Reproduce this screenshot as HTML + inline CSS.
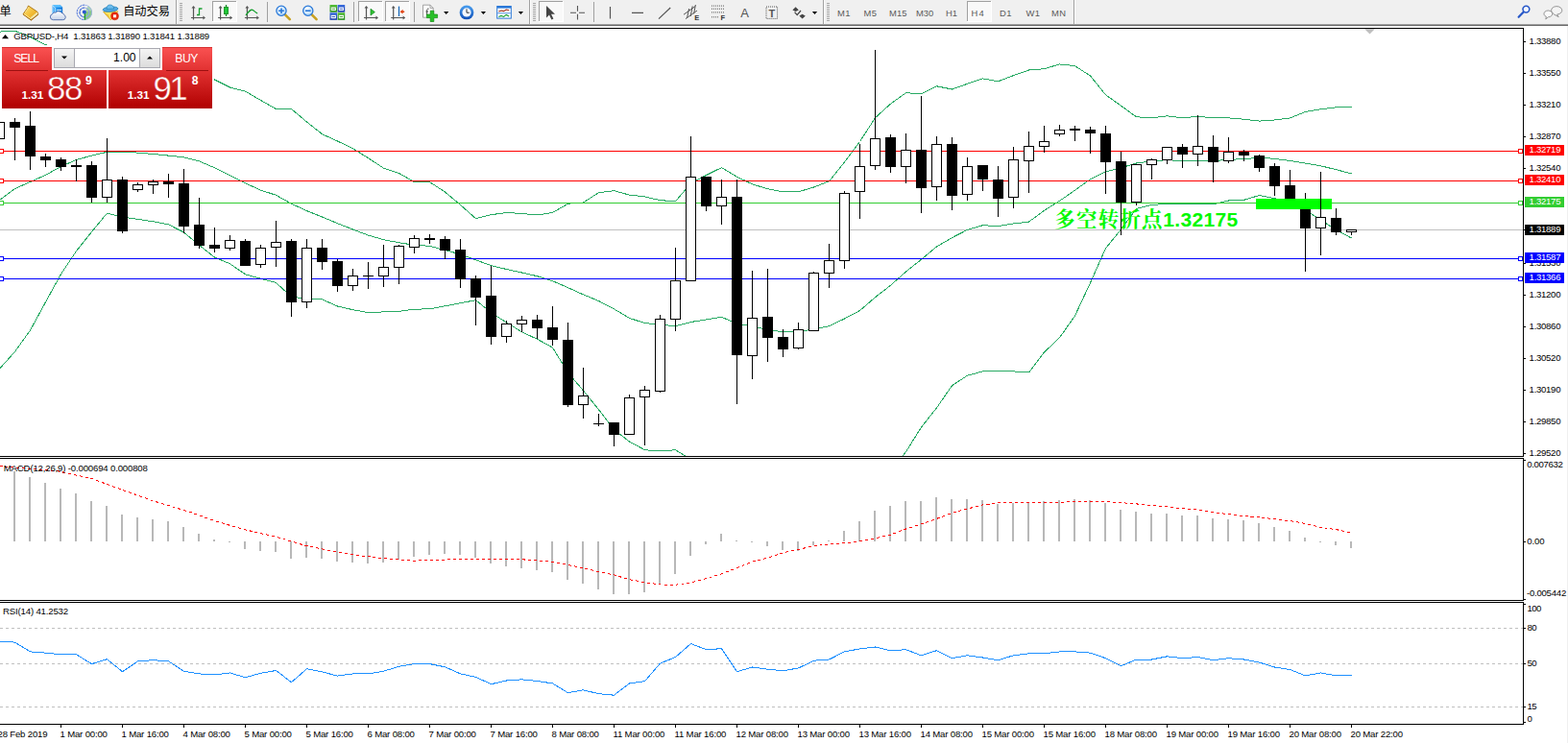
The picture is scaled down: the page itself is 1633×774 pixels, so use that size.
<!DOCTYPE html>
<html><head><meta charset="utf-8"><title>GBPUSD H4</title>
<style>
html,body{margin:0;padding:0;background:#fff;}
body{width:1633px;height:774px;overflow:hidden;position:relative;font-family:"Liberation Sans",sans-serif;}
#root{position:absolute;left:0;top:0;width:1633px;height:774px;overflow:hidden;}
.t{position:absolute;white-space:pre;font-family:"Liberation Sans",sans-serif;}
</style></head><body><div id="root">
<svg width="1633" height="774" viewBox="0 0 1633 774" style="position:absolute;left:0;top:0" shape-rendering="crispEdges">
<rect x="0" y="0" width="1633" height="774" fill="#fff" />
<rect x="0" y="0" width="1633" height="25" fill="#f0f0f0" />
<rect x="0" y="25" width="1633" height="1" fill="#a0a0a0" />
<rect x="0" y="26" width="1633" height="1" fill="#696969" />
<rect x="1632" y="27" width="1" height="747" fill="#f0f0f0" />
<rect x="0" y="29" width="1587" height="1" fill="#000" />
<rect x="1586" y="29" width="1" height="447" fill="#000" />
<rect x="0" y="475" width="1587" height="1" fill="#000" />
<rect x="0" y="477" width="1587" height="1" fill="#000" />
<rect x="1586" y="477" width="1" height="149" fill="#000" />
<rect x="0" y="625" width="1587" height="1" fill="#000" />
<rect x="0" y="627" width="1587" height="1" fill="#000" />
<rect x="1586" y="627" width="1" height="128" fill="#000" />
<rect x="0" y="754" width="1587" height="1" fill="#000" />
<path d="M1421 30H1432L1426.5 35.5Z" fill="#c0c0c0" shape-rendering="auto"/>
<defs><clipPath id="cm"><rect x="0" y="30" width="1586" height="445"/></clipPath><linearGradient id="rg" x1="0" y1="0" x2="0" y2="1"><stop offset="0" stop-color="#fa5252"/><stop offset="0.38" stop-color="#e23232"/><stop offset="1" stop-color="#b00000"/></linearGradient><linearGradient id="bg" x1="0" y1="0" x2="0" y2="1"><stop offset="0" stop-color="#f4f4f4"/><stop offset="1" stop-color="#dcdcdc"/></linearGradient></defs>
<rect x="0" y="239" width="1586" height="1" fill="#c0c0c0" />
<g>
<polyline points="-0.5,33.1 15.5,32.2 31.5,38.5 47.5,46.8 63.5,50.1 79.5,53.4 95.5,56.7 111.5,60 127.5,63.3 143.5,66.5 159.5,69.8 175.5,73.1 191.5,76.4 207.5,79.7 223.5,83 239.5,91 255.5,95.1 271.5,104.5 287.5,113.5 303.5,113.5 319.5,127 335.5,139.7 351.5,147 367.5,154.7 383.5,164.7 399.5,175.1 415.5,180.4 431.5,189.6 447.5,189.6 463.5,200 479.5,213.5 495.5,227.7 511.5,223.7 527.5,221.5 543.5,222.5 559.5,224 575.5,221.5 591.5,212.2 607.5,211 623.5,200.7 639.5,198.7 655.5,203.1 671.5,204.9 687.5,208.7 703.5,209.7 719.5,190.9 735.5,182.5 751.5,174.6 767.5,184.2 783.5,191.9 799.5,196.7 815.5,199.8 831.5,199.8 847.5,195 863.5,188.8 879.5,169 895.5,147.5 911.5,122.7 927.5,108.2 943.5,96.7 959.5,97.8 975.5,89.8 991.5,93 1007.5,87.3 1023.5,81.9 1039.5,84.8 1055.5,78.6 1071.5,73 1087.5,71.7 1103.5,66.9 1119.5,68.6 1135.5,79 1151.5,98.8 1167.5,110.2 1183.5,121.8 1199.5,122.8 1215.5,120.8 1231.5,122.9 1247.5,121.3 1263.5,122.9 1279.5,122.9 1295.5,124.2 1311.5,126.1 1327.5,125 1343.5,122.9 1359.5,116.5 1375.5,113.8 1391.5,111.8 1407.5,111.8" fill="none" stroke="#28aa64" stroke-width="1" clip-path="url(#cm)" />
<polyline points="-0.5,208.5 15.5,196.5 31.5,189.5 47.5,182.3 63.5,173.5 79.5,166.5 95.5,162.1 111.5,158.3 127.5,158.3 143.5,159.1 159.5,160.5 175.5,162.1 191.5,163.8 207.5,167.9 223.5,174.8 239.5,182.6 255.5,190.8 271.5,198.1 287.5,203.3 303.5,212.3 319.5,219.6 335.5,226 351.5,232.7 367.5,239 383.5,245.1 399.5,249.7 415.5,252.7 431.5,255.3 447.5,256.3 463.5,260.7 479.5,264.8 495.5,270.8 511.5,276.7 527.5,280.5 543.5,284 559.5,287.7 575.5,292.7 591.5,299.6 607.5,306.9 623.5,313.5 639.5,321.9 655.5,331.4 671.5,336.6 687.5,338.1 703.5,339.8 719.5,335.5 735.5,332.9 751.5,330.3 767.5,337.2 783.5,339.9 799.5,343.4 815.5,345.9 831.5,345.9 847.5,342.8 863.5,339.7 879.5,332 895.5,323.5 911.5,309.7 927.5,297.3 943.5,283 959.5,270.3 975.5,257 991.5,247.6 1007.5,239.4 1023.5,234.7 1039.5,235.6 1055.5,233 1071.5,231.1 1087.5,219.3 1103.5,209.3 1119.5,198.2 1135.5,186.7 1151.5,178.8 1167.5,174.8 1183.5,170 1199.5,168 1215.5,166.6 1231.5,167.8 1247.5,167.2 1263.5,167.8 1279.5,166.1 1295.5,165.9 1311.5,163.9 1327.5,165.5 1343.5,167.4 1359.5,170.1 1375.5,172.8 1391.5,176.7 1407.5,180.9" fill="none" stroke="#28aa64" stroke-width="1" clip-path="url(#cm)" />
<polyline points="-0.5,384.2 15.5,366.4 31.5,344 47.5,314.7 63.5,285.5 79.5,261.5 95.5,241.5 111.5,222.1 127.5,226.1 143.5,228.3 159.5,230.8 175.5,233.9 191.5,242 207.5,255.5 223.5,268 239.5,274.8 255.5,285.8 271.5,290.3 287.5,294.5 303.5,309.2 319.5,311.1 335.5,311.9 351.5,319 367.5,322.7 383.5,325.6 399.5,324.9 415.5,324.3 431.5,322.2 447.5,321.8 463.5,318.8 479.5,315.7 495.5,312.7 511.5,325.6 527.5,336 543.5,345.8 559.5,353.3 575.5,362.1 591.5,388.2 607.5,406.9 623.5,426.7 639.5,447.5 655.5,460 671.5,468.7 687.5,470 703.5,468.7 719.5,478.5 735.5,500.5 751.5,500.5 767.5,500.5 783.5,500.5 799.5,500.5 815.5,500.5 831.5,500.5 847.5,500.5 863.5,500.5 879.5,500.5 895.5,500.5 911.5,500.5 927.5,490.2 943.5,470.7 959.5,445 975.5,424.9 991.5,401.7 1007.5,391.2 1023.5,386.9 1039.5,386.9 1055.5,386.9 1071.5,388 1087.5,367 1103.5,351.8 1119.5,329 1135.5,294.6 1151.5,258.7 1167.5,239 1183.5,217.3 1199.5,213.5 1215.5,212.3 1231.5,212.3 1247.5,212.3 1263.5,212.7 1279.5,209 1295.5,208.3 1311.5,203.5 1327.5,206.6 1343.5,210.5 1359.5,219 1375.5,229 1391.5,239.7 1407.5,248" fill="none" stroke="#28aa64" stroke-width="1" clip-path="url(#cm)" />
</g>
<rect x="0" y="157" width="1586" height="1" fill="#ff0000" />
<rect x="0" y="188" width="1586" height="1" fill="#ff0000" />
<rect x="0" y="211" width="1586" height="1" fill="#32cd32" />
<rect x="0" y="269" width="1586" height="1" fill="#0000ff" />
<rect x="0" y="290" width="1586" height="1" fill="#0000ff" />
<rect x="-1" y="120" width="1" height="31" fill="#000" />
<rect x="-6" y="127" width="11" height="18" fill="#000" />
<rect x="-5" y="128" width="9" height="16" fill="#fff" />
<rect x="15" y="123" width="1" height="44" fill="#000" />
<rect x="10" y="127" width="11" height="6" fill="#000" />
<rect x="31" y="116" width="1" height="61" fill="#000" />
<rect x="26" y="131" width="11" height="32" fill="#000" />
<rect x="47" y="160" width="1" height="14" fill="#000" />
<rect x="42" y="163" width="11" height="4" fill="#000" />
<rect x="63" y="164" width="1" height="14" fill="#000" />
<rect x="58" y="166" width="11" height="8" fill="#000" />
<rect x="79" y="166" width="1" height="23" fill="#000" />
<rect x="74" y="172" width="11" height="2" fill="#000" />
<rect x="95" y="168" width="1" height="43" fill="#000" />
<rect x="90" y="172" width="11" height="34" fill="#000" />
<rect x="111" y="144" width="1" height="67" fill="#000" />
<rect x="106" y="187" width="11" height="19" fill="#000" />
<rect x="107" y="188" width="9" height="17" fill="#fff" />
<rect x="127" y="184" width="1" height="59" fill="#000" />
<rect x="122" y="187" width="11" height="54" fill="#000" />
<rect x="143" y="190" width="1" height="10" fill="#000" />
<rect x="138" y="192" width="11" height="6" fill="#000" />
<rect x="139" y="193" width="9" height="4" fill="#fff" />
<rect x="159" y="187" width="1" height="15" fill="#000" />
<rect x="154" y="189" width="11" height="4" fill="#000" />
<rect x="155" y="190" width="9" height="2" fill="#fff" />
<rect x="175" y="181" width="1" height="25" fill="#000" />
<rect x="170" y="189" width="11" height="3" fill="#000" />
<rect x="191" y="176" width="1" height="67" fill="#000" />
<rect x="186" y="191" width="11" height="45" fill="#000" />
<rect x="207" y="206" width="1" height="53" fill="#000" />
<rect x="202" y="234" width="11" height="22" fill="#000" />
<rect x="223" y="237" width="1" height="26" fill="#000" />
<rect x="218" y="255" width="11" height="4" fill="#000" />
<rect x="239" y="245" width="1" height="16" fill="#000" />
<rect x="234" y="250" width="11" height="9" fill="#000" />
<rect x="235" y="251" width="9" height="7" fill="#fff" />
<rect x="255" y="249" width="1" height="28" fill="#000" />
<rect x="250" y="251" width="11" height="26" fill="#000" />
<rect x="271" y="255" width="1" height="24" fill="#000" />
<rect x="266" y="258" width="11" height="18" fill="#000" />
<rect x="267" y="259" width="9" height="16" fill="#fff" />
<rect x="287" y="230" width="1" height="48" fill="#000" />
<rect x="282" y="252" width="11" height="6" fill="#000" />
<rect x="283" y="253" width="9" height="4" fill="#fff" />
<rect x="303" y="249" width="1" height="81" fill="#000" />
<rect x="298" y="251" width="11" height="64" fill="#000" />
<rect x="319" y="249" width="1" height="72" fill="#000" />
<rect x="314" y="258" width="11" height="57" fill="#000" />
<rect x="315" y="259" width="9" height="55" fill="#fff" />
<rect x="335" y="249" width="1" height="32" fill="#000" />
<rect x="330" y="258" width="11" height="15" fill="#000" />
<rect x="351" y="270" width="1" height="34" fill="#000" />
<rect x="346" y="272" width="11" height="26" fill="#000" />
<rect x="367" y="280" width="1" height="23" fill="#000" />
<rect x="362" y="287" width="11" height="11" fill="#000" />
<rect x="363" y="288" width="9" height="9" fill="#fff" />
<rect x="383" y="273" width="1" height="28" fill="#000" />
<rect x="378" y="287" width="11" height="1" fill="#000" />
<rect x="399" y="255" width="1" height="44" fill="#000" />
<rect x="394" y="278" width="11" height="10" fill="#000" />
<rect x="395" y="279" width="9" height="8" fill="#fff" />
<rect x="415" y="255" width="1" height="41" fill="#000" />
<rect x="410" y="256" width="11" height="23" fill="#000" />
<rect x="411" y="257" width="9" height="21" fill="#fff" />
<rect x="431" y="245" width="1" height="19" fill="#000" />
<rect x="426" y="248" width="11" height="10" fill="#000" />
<rect x="427" y="249" width="9" height="8" fill="#fff" />
<rect x="447" y="244" width="1" height="10" fill="#000" />
<rect x="442" y="248" width="11" height="2" fill="#000" />
<rect x="463" y="246" width="1" height="24" fill="#000" />
<rect x="458" y="249" width="11" height="12" fill="#000" />
<rect x="479" y="249" width="1" height="51" fill="#000" />
<rect x="474" y="260" width="11" height="31" fill="#000" />
<rect x="495" y="287" width="1" height="52" fill="#000" />
<rect x="490" y="290" width="11" height="20" fill="#000" />
<rect x="511" y="277" width="1" height="82" fill="#000" />
<rect x="506" y="308" width="11" height="43" fill="#000" />
<rect x="527" y="334" width="1" height="23" fill="#000" />
<rect x="522" y="337" width="11" height="14" fill="#000" />
<rect x="523" y="338" width="9" height="12" fill="#fff" />
<rect x="543" y="329" width="1" height="17" fill="#000" />
<rect x="538" y="333" width="11" height="5" fill="#000" />
<rect x="539" y="334" width="9" height="3" fill="#fff" />
<rect x="559" y="328" width="1" height="25" fill="#000" />
<rect x="554" y="333" width="11" height="9" fill="#000" />
<rect x="575" y="319" width="1" height="41" fill="#000" />
<rect x="570" y="341" width="11" height="13" fill="#000" />
<rect x="591" y="336" width="1" height="88" fill="#000" />
<rect x="586" y="354" width="11" height="68" fill="#000" />
<rect x="607" y="383" width="1" height="53" fill="#000" />
<rect x="602" y="412" width="11" height="10" fill="#000" />
<rect x="603" y="413" width="9" height="8" fill="#fff" />
<rect x="623" y="431" width="1" height="13" fill="#000" />
<rect x="618" y="441" width="11" height="1" fill="#000" />
<rect x="639" y="440" width="1" height="25" fill="#000" />
<rect x="634" y="440" width="11" height="13" fill="#000" />
<rect x="655" y="411" width="1" height="42" fill="#000" />
<rect x="650" y="414" width="11" height="39" fill="#000" />
<rect x="651" y="415" width="9" height="37" fill="#fff" />
<rect x="671" y="402" width="1" height="62" fill="#000" />
<rect x="666" y="406" width="11" height="8" fill="#000" />
<rect x="667" y="407" width="9" height="6" fill="#fff" />
<rect x="687" y="328" width="1" height="81" fill="#000" />
<rect x="682" y="332" width="11" height="76" fill="#000" />
<rect x="683" y="333" width="9" height="74" fill="#fff" />
<rect x="703" y="258" width="1" height="87" fill="#000" />
<rect x="698" y="292" width="11" height="41" fill="#000" />
<rect x="699" y="293" width="9" height="39" fill="#fff" />
<rect x="719" y="142" width="1" height="151" fill="#000" />
<rect x="714" y="184" width="11" height="109" fill="#000" />
<rect x="715" y="185" width="9" height="107" fill="#fff" />
<rect x="735" y="184" width="1" height="36" fill="#000" />
<rect x="730" y="184" width="11" height="31" fill="#000" />
<rect x="751" y="187" width="1" height="47" fill="#000" />
<rect x="746" y="205" width="11" height="10" fill="#000" />
<rect x="747" y="206" width="9" height="8" fill="#fff" />
<rect x="767" y="187" width="1" height="234" fill="#000" />
<rect x="762" y="205" width="11" height="165" fill="#000" />
<rect x="783" y="282" width="1" height="113" fill="#000" />
<rect x="778" y="331" width="11" height="40" fill="#000" />
<rect x="779" y="332" width="9" height="38" fill="#fff" />
<rect x="799" y="280" width="1" height="97" fill="#000" />
<rect x="794" y="330" width="11" height="22" fill="#000" />
<rect x="815" y="343" width="1" height="29" fill="#000" />
<rect x="810" y="351" width="11" height="13" fill="#000" />
<rect x="831" y="336" width="1" height="28" fill="#000" />
<rect x="826" y="343" width="11" height="20" fill="#000" />
<rect x="827" y="344" width="9" height="18" fill="#fff" />
<rect x="847" y="283" width="1" height="62" fill="#000" />
<rect x="842" y="284" width="11" height="61" fill="#000" />
<rect x="843" y="285" width="9" height="59" fill="#fff" />
<rect x="863" y="254" width="1" height="46" fill="#000" />
<rect x="858" y="271" width="11" height="14" fill="#000" />
<rect x="859" y="272" width="9" height="12" fill="#fff" />
<rect x="879" y="199" width="1" height="81" fill="#000" />
<rect x="874" y="201" width="11" height="71" fill="#000" />
<rect x="875" y="202" width="9" height="69" fill="#fff" />
<rect x="895" y="150" width="1" height="78" fill="#000" />
<rect x="890" y="173" width="11" height="27" fill="#000" />
<rect x="891" y="174" width="9" height="25" fill="#fff" />
<rect x="911" y="52" width="1" height="125" fill="#000" />
<rect x="906" y="144" width="11" height="29" fill="#000" />
<rect x="907" y="145" width="9" height="27" fill="#fff" />
<rect x="927" y="140" width="1" height="40" fill="#000" />
<rect x="922" y="143" width="11" height="31" fill="#000" />
<rect x="943" y="139" width="1" height="52" fill="#000" />
<rect x="938" y="156" width="11" height="18" fill="#000" />
<rect x="939" y="157" width="9" height="16" fill="#fff" />
<rect x="959" y="100" width="1" height="122" fill="#000" />
<rect x="954" y="156" width="11" height="40" fill="#000" />
<rect x="975" y="142" width="1" height="67" fill="#000" />
<rect x="970" y="150" width="11" height="45" fill="#000" />
<rect x="971" y="151" width="9" height="43" fill="#fff" />
<rect x="991" y="143" width="1" height="76" fill="#000" />
<rect x="986" y="150" width="11" height="54" fill="#000" />
<rect x="1007" y="164" width="1" height="45" fill="#000" />
<rect x="1002" y="173" width="11" height="30" fill="#000" />
<rect x="1003" y="174" width="9" height="28" fill="#fff" />
<rect x="1023" y="172" width="1" height="27" fill="#000" />
<rect x="1018" y="172" width="11" height="15" fill="#000" />
<rect x="1039" y="173" width="1" height="53" fill="#000" />
<rect x="1034" y="187" width="11" height="20" fill="#000" />
<rect x="1055" y="153" width="1" height="64" fill="#000" />
<rect x="1050" y="166" width="11" height="40" fill="#000" />
<rect x="1051" y="167" width="9" height="38" fill="#fff" />
<rect x="1071" y="137" width="1" height="64" fill="#000" />
<rect x="1066" y="152" width="11" height="16" fill="#000" />
<rect x="1067" y="153" width="9" height="14" fill="#fff" />
<rect x="1087" y="131" width="1" height="28" fill="#000" />
<rect x="1082" y="147" width="11" height="6" fill="#000" />
<rect x="1083" y="148" width="9" height="4" fill="#fff" />
<rect x="1103" y="130" width="1" height="12" fill="#000" />
<rect x="1098" y="135" width="11" height="5" fill="#000" />
<rect x="1099" y="136" width="9" height="3" fill="#fff" />
<rect x="1119" y="131" width="1" height="16" fill="#000" />
<rect x="1114" y="134" width="11" height="2" fill="#000" />
<rect x="1135" y="132" width="1" height="28" fill="#000" />
<rect x="1130" y="135" width="11" height="4" fill="#000" />
<rect x="1151" y="131" width="1" height="71" fill="#000" />
<rect x="1146" y="139" width="11" height="30" fill="#000" />
<rect x="1167" y="158" width="1" height="87" fill="#000" />
<rect x="1162" y="168" width="11" height="43" fill="#000" />
<rect x="1183" y="171" width="1" height="43" fill="#000" />
<rect x="1178" y="171" width="11" height="40" fill="#000" />
<rect x="1179" y="172" width="9" height="38" fill="#fff" />
<rect x="1199" y="165" width="1" height="22" fill="#000" />
<rect x="1194" y="166" width="11" height="6" fill="#000" />
<rect x="1195" y="167" width="9" height="4" fill="#fff" />
<rect x="1215" y="153" width="1" height="18" fill="#000" />
<rect x="1210" y="153" width="11" height="14" fill="#000" />
<rect x="1211" y="154" width="9" height="12" fill="#fff" />
<rect x="1231" y="150" width="1" height="25" fill="#000" />
<rect x="1226" y="153" width="11" height="8" fill="#000" />
<rect x="1247" y="120" width="1" height="53" fill="#000" />
<rect x="1242" y="152" width="11" height="9" fill="#000" />
<rect x="1243" y="153" width="9" height="7" fill="#fff" />
<rect x="1263" y="141" width="1" height="49" fill="#000" />
<rect x="1258" y="153" width="11" height="16" fill="#000" />
<rect x="1279" y="143" width="1" height="27" fill="#000" />
<rect x="1274" y="158" width="11" height="10" fill="#000" />
<rect x="1275" y="159" width="9" height="8" fill="#fff" />
<rect x="1295" y="156" width="1" height="12" fill="#000" />
<rect x="1290" y="158" width="11" height="4" fill="#000" />
<rect x="1311" y="161" width="1" height="18" fill="#000" />
<rect x="1306" y="162" width="11" height="13" fill="#000" />
<rect x="1327" y="170" width="1" height="34" fill="#000" />
<rect x="1322" y="173" width="11" height="21" fill="#000" />
<rect x="1343" y="177" width="1" height="39" fill="#000" />
<rect x="1338" y="193" width="11" height="23" fill="#000" />
<rect x="1359" y="201" width="1" height="82" fill="#000" />
<rect x="1354" y="215" width="11" height="23" fill="#000" />
<rect x="1375" y="179" width="1" height="87" fill="#000" />
<rect x="1370" y="226" width="11" height="12" fill="#000" />
<rect x="1371" y="227" width="9" height="10" fill="#fff" />
<rect x="1391" y="217" width="1" height="28" fill="#000" />
<rect x="1386" y="227" width="11" height="15" fill="#000" />
<rect x="1407" y="239" width="1" height="6" fill="#000" />
<rect x="1402" y="239" width="11" height="3" fill="#000" />
<rect x="1403" y="240" width="9" height="1" fill="#fff" />
<rect x="-1" y="155" width="5" height="5" fill="#ff0000" />
<rect x="0" y="156" width="3" height="3" fill="#fff" />
<rect x="1581" y="155" width="5" height="5" fill="#ff0000" />
<rect x="1582" y="156" width="3" height="3" fill="#fff" />
<rect x="-1" y="186" width="5" height="5" fill="#ff0000" />
<rect x="0" y="187" width="3" height="3" fill="#fff" />
<rect x="1581" y="186" width="5" height="5" fill="#ff0000" />
<rect x="1582" y="187" width="3" height="3" fill="#fff" />
<rect x="-1" y="209" width="5" height="5" fill="#32cd32" />
<rect x="0" y="210" width="3" height="3" fill="#fff" />
<rect x="1581" y="209" width="5" height="5" fill="#32cd32" />
<rect x="1582" y="210" width="3" height="3" fill="#fff" />
<rect x="-1" y="267" width="5" height="5" fill="#0000ff" />
<rect x="0" y="268" width="3" height="3" fill="#fff" />
<rect x="1581" y="267" width="5" height="5" fill="#0000ff" />
<rect x="1582" y="268" width="3" height="3" fill="#fff" />
<rect x="-1" y="288" width="5" height="5" fill="#0000ff" />
<rect x="0" y="289" width="3" height="3" fill="#fff" />
<rect x="1581" y="288" width="5" height="5" fill="#0000ff" />
<rect x="1582" y="289" width="3" height="3" fill="#fff" />
<rect x="1308" y="207" width="79" height="11" fill="#00ff00" />
<rect x="1375" y="207" width="1" height="11" fill="#000" />
<rect x="14" y="491" width="2" height="73" fill="#b8b8b8" />
<rect x="30" y="497" width="2" height="67" fill="#b8b8b8" />
<rect x="46" y="503" width="2" height="61" fill="#b8b8b8" />
<rect x="62" y="509" width="2" height="55" fill="#b8b8b8" />
<rect x="78" y="514" width="2" height="50" fill="#b8b8b8" />
<rect x="94" y="522" width="2" height="42" fill="#b8b8b8" />
<rect x="110" y="527" width="2" height="37" fill="#b8b8b8" />
<rect x="126" y="536" width="2" height="28" fill="#b8b8b8" />
<rect x="142" y="539" width="2" height="25" fill="#b8b8b8" />
<rect x="158" y="541" width="2" height="23" fill="#b8b8b8" />
<rect x="174" y="543" width="2" height="21" fill="#b8b8b8" />
<rect x="190" y="549" width="2" height="15" fill="#b8b8b8" />
<rect x="206" y="556" width="2" height="8" fill="#b8b8b8" />
<rect x="222" y="562" width="2" height="2" fill="#b8b8b8" />
<rect x="238" y="564" width="2" height="1" fill="#b8b8b8" />
<rect x="254" y="564" width="2" height="8" fill="#b8b8b8" />
<rect x="270" y="564" width="2" height="10" fill="#b8b8b8" />
<rect x="286" y="564" width="2" height="11" fill="#b8b8b8" />
<rect x="302" y="564" width="2" height="18" fill="#b8b8b8" />
<rect x="318" y="564" width="2" height="17" fill="#b8b8b8" />
<rect x="334" y="564" width="2" height="18" fill="#b8b8b8" />
<rect x="350" y="564" width="2" height="21" fill="#b8b8b8" />
<rect x="366" y="564" width="2" height="22" fill="#b8b8b8" />
<rect x="382" y="564" width="2" height="23" fill="#b8b8b8" />
<rect x="398" y="564" width="2" height="22" fill="#b8b8b8" />
<rect x="414" y="564" width="2" height="19" fill="#b8b8b8" />
<rect x="430" y="564" width="2" height="16" fill="#b8b8b8" />
<rect x="446" y="564" width="2" height="14" fill="#b8b8b8" />
<rect x="462" y="564" width="2" height="13" fill="#b8b8b8" />
<rect x="478" y="564" width="2" height="14" fill="#b8b8b8" />
<rect x="494" y="564" width="2" height="17" fill="#b8b8b8" />
<rect x="510" y="564" width="2" height="23" fill="#b8b8b8" />
<rect x="526" y="564" width="2" height="26" fill="#b8b8b8" />
<rect x="542" y="564" width="2" height="28" fill="#b8b8b8" />
<rect x="558" y="564" width="2" height="30" fill="#b8b8b8" />
<rect x="574" y="564" width="2" height="32" fill="#b8b8b8" />
<rect x="590" y="564" width="2" height="40" fill="#b8b8b8" />
<rect x="606" y="564" width="2" height="44" fill="#b8b8b8" />
<rect x="622" y="564" width="2" height="50" fill="#b8b8b8" />
<rect x="638" y="564" width="2" height="55" fill="#b8b8b8" />
<rect x="654" y="564" width="2" height="55" fill="#b8b8b8" />
<rect x="670" y="564" width="2" height="53" fill="#b8b8b8" />
<rect x="686" y="564" width="2" height="45" fill="#b8b8b8" />
<rect x="702" y="564" width="2" height="34" fill="#b8b8b8" />
<rect x="718" y="564" width="2" height="15" fill="#b8b8b8" />
<rect x="734" y="564" width="2" height="3" fill="#b8b8b8" />
<rect x="750" y="556" width="2" height="8" fill="#b8b8b8" />
<rect x="766" y="563" width="2" height="1" fill="#b8b8b8" />
<rect x="782" y="564" width="2" height="1" fill="#b8b8b8" />
<rect x="798" y="564" width="2" height="5" fill="#b8b8b8" />
<rect x="814" y="564" width="2" height="9" fill="#b8b8b8" />
<rect x="830" y="564" width="2" height="10" fill="#b8b8b8" />
<rect x="846" y="564" width="2" height="4" fill="#b8b8b8" />
<rect x="862" y="563" width="2" height="1" fill="#b8b8b8" />
<rect x="878" y="553" width="2" height="11" fill="#b8b8b8" />
<rect x="894" y="543" width="2" height="21" fill="#b8b8b8" />
<rect x="910" y="532" width="2" height="32" fill="#b8b8b8" />
<rect x="926" y="527" width="2" height="37" fill="#b8b8b8" />
<rect x="942" y="522" width="2" height="42" fill="#b8b8b8" />
<rect x="958" y="522" width="2" height="42" fill="#b8b8b8" />
<rect x="974" y="518" width="2" height="46" fill="#b8b8b8" />
<rect x="990" y="520" width="2" height="44" fill="#b8b8b8" />
<rect x="1006" y="520" width="2" height="44" fill="#b8b8b8" />
<rect x="1022" y="521" width="2" height="43" fill="#b8b8b8" />
<rect x="1038" y="525" width="2" height="39" fill="#b8b8b8" />
<rect x="1054" y="524" width="2" height="40" fill="#b8b8b8" />
<rect x="1070" y="523" width="2" height="41" fill="#b8b8b8" />
<rect x="1086" y="522" width="2" height="42" fill="#b8b8b8" />
<rect x="1102" y="521" width="2" height="43" fill="#b8b8b8" />
<rect x="1118" y="520" width="2" height="44" fill="#b8b8b8" />
<rect x="1134" y="521" width="2" height="43" fill="#b8b8b8" />
<rect x="1150" y="524" width="2" height="40" fill="#b8b8b8" />
<rect x="1166" y="531" width="2" height="33" fill="#b8b8b8" />
<rect x="1182" y="533" width="2" height="31" fill="#b8b8b8" />
<rect x="1198" y="535" width="2" height="29" fill="#b8b8b8" />
<rect x="1214" y="535" width="2" height="29" fill="#b8b8b8" />
<rect x="1230" y="537" width="2" height="27" fill="#b8b8b8" />
<rect x="1246" y="537" width="2" height="27" fill="#b8b8b8" />
<rect x="1262" y="540" width="2" height="24" fill="#b8b8b8" />
<rect x="1278" y="541" width="2" height="23" fill="#b8b8b8" />
<rect x="1294" y="542" width="2" height="22" fill="#b8b8b8" />
<rect x="1310" y="545" width="2" height="19" fill="#b8b8b8" />
<rect x="1326" y="549" width="2" height="15" fill="#b8b8b8" />
<rect x="1342" y="553" width="2" height="11" fill="#b8b8b8" />
<rect x="1358" y="560" width="2" height="4" fill="#b8b8b8" />
<rect x="1374" y="564" width="2" height="1" fill="#b8b8b8" />
<rect x="1390" y="564" width="2" height="4" fill="#b8b8b8" />
<rect x="1406" y="564" width="2" height="7" fill="#b8b8b8" />
<polyline points="-0.5,485.7 0.5,485.8 60,490.8 95.3,498.5 128.4,510.7 159.2,521.7 198.9,533.8 223.4,542.6 254,551.5 287.1,559.2 319.3,568.7 340.5,572.8 351.5,575.3 367.5,577.9 383.5,579.7 399.5,581.7 415.5,583 431.5,584.1 447.5,583 463.5,583 479.5,582.3 495.5,582.1 511.5,582.1 527.5,582.1 543.5,582.8 559.5,583.9 575.5,585.2 591.5,588.5 607.5,591.8 623.5,595.5 639.5,598.9 655.5,603.7 671.5,606.6 687.5,609 703.5,609.2 719.5,607 735.5,602.6 751.5,597.8 767.5,591.6 783.5,585.2 799.5,581.2 815.5,575.7 831.5,572.4 847.5,568.7 863.5,566.9 879.5,565.8 895.5,564 911.5,560.9 927.5,557 943.5,551 959.5,545.9 975.5,540.4 991.5,534.3 1007.5,530.1 1023.5,525.8 1039.5,524 1055.5,523.1 1071.5,523.1 1087.5,523.1 1103.5,523.1 1119.5,522.8 1135.5,522.8 1151.5,522.8 1167.5,523.6 1183.5,524.9 1199.5,526.7 1215.5,527.9 1231.5,529.7 1247.5,531 1263.5,533.6 1279.5,535.7 1295.5,537.5 1311.5,538.7 1327.5,540.8 1343.5,542.6 1359.5,545.4 1375.5,549.3 1391.5,551.6 1407.5,554.9" fill="none" stroke="#ff0000" stroke-width="1" stroke-dasharray="3 3"/>
<line x1="0" y1="654.5" x2="1586" y2="654.5" stroke="#c0c0c0" stroke-width="1" stroke-dasharray="3 3"/>
<line x1="0" y1="691.5" x2="1586" y2="691.5" stroke="#c0c0c0" stroke-width="1" stroke-dasharray="3 3"/>
<line x1="0" y1="736.5" x2="1586" y2="736.5" stroke="#c0c0c0" stroke-width="1" stroke-dasharray="3 3"/>
<polyline points="-0.5,668.1 15.5,669.1 31.5,678.9 47.5,680.1 63.5,681.8 79.5,681.8 95.5,691.6 111.5,686.7 127.5,699.7 143.5,688.9 159.5,687.7 175.5,688.9 191.5,699.2 207.5,701.9 223.5,702.9 239.5,700.9 255.5,705.8 271.5,701.2 287.5,698.5 303.5,710.7 319.5,696.8 335.5,699.9 351.5,704.1 367.5,701.9 383.5,701.9 399.5,699.2 415.5,694.3 431.5,691.6 447.5,691.6 463.5,694.8 479.5,701.9 495.5,705.3 511.5,712.7 527.5,709 543.5,707.8 559.5,709.5 575.5,711.9 591.5,721.7 607.5,718.8 623.5,722.7 639.5,724.2 655.5,711.9 671.5,709.7 687.5,691.1 703.5,684.5 719.5,670.5 735.5,676.7 751.5,675.7 767.5,699.7 783.5,695 799.5,697.2 815.5,698.7 831.5,696 847.5,688.2 863.5,687 879.5,678.9 895.5,675.9 911.5,674 927.5,677.9 943.5,676.7 959.5,682.8 975.5,677.7 991.5,685.7 1007.5,682.8 1023.5,685 1039.5,687.7 1055.5,682.8 1071.5,680.8 1087.5,680.8 1103.5,678.9 1119.5,678.9 1135.5,680.1 1151.5,685.7 1167.5,693.8 1183.5,687 1199.5,687 1215.5,683.8 1231.5,685.7 1247.5,684.5 1263.5,687.7 1279.5,685.7 1295.5,687 1311.5,690.1 1327.5,695 1343.5,697.5 1359.5,703.9 1375.5,700.9 1391.5,703.9 1407.5,703.9" fill="none" stroke="#1e90ff" stroke-width="1"/>
<rect x="63" y="755" width="1" height="3" fill="#000" />
<rect x="127" y="755" width="1" height="3" fill="#000" />
<rect x="191" y="755" width="1" height="3" fill="#000" />
<rect x="255" y="755" width="1" height="3" fill="#000" />
<rect x="319" y="755" width="1" height="3" fill="#000" />
<rect x="383" y="755" width="1" height="3" fill="#000" />
<rect x="447" y="755" width="1" height="3" fill="#000" />
<rect x="511" y="755" width="1" height="3" fill="#000" />
<rect x="575" y="755" width="1" height="3" fill="#000" />
<rect x="639" y="755" width="1" height="3" fill="#000" />
<rect x="703" y="755" width="1" height="3" fill="#000" />
<rect x="767" y="755" width="1" height="3" fill="#000" />
<rect x="831" y="755" width="1" height="3" fill="#000" />
<rect x="895" y="755" width="1" height="3" fill="#000" />
<rect x="959" y="755" width="1" height="3" fill="#000" />
<rect x="1023" y="755" width="1" height="3" fill="#000" />
<rect x="1087" y="755" width="1" height="3" fill="#000" />
<rect x="1151" y="755" width="1" height="3" fill="#000" />
<rect x="1215" y="755" width="1" height="3" fill="#000" />
<rect x="1279" y="755" width="1" height="3" fill="#000" />
<rect x="1343" y="755" width="1" height="3" fill="#000" />
<rect x="1407" y="755" width="1" height="3" fill="#000" />
<rect x="1587" y="43" width="2" height="1" fill="#000" />
<rect x="1587" y="76" width="2" height="1" fill="#000" />
<rect x="1587" y="109" width="2" height="1" fill="#000" />
<rect x="1587" y="142" width="2" height="1" fill="#000" />
<rect x="1587" y="175" width="2" height="1" fill="#000" />
<rect x="1587" y="274" width="2" height="1" fill="#000" />
<rect x="1587" y="307" width="2" height="1" fill="#000" />
<rect x="1587" y="340" width="2" height="1" fill="#000" />
<rect x="1587" y="373" width="2" height="1" fill="#000" />
<rect x="1587" y="406" width="2" height="1" fill="#000" />
<rect x="1587" y="439" width="2" height="1" fill="#000" />
<rect x="1587" y="472" width="2" height="1" fill="#000" />
<rect x="1587" y="479" width="2" height="1" fill="#000" />
<rect x="1587" y="564" width="2" height="1" fill="#000" />
<rect x="1587" y="624" width="2" height="1" fill="#000" />
<rect x="1587" y="629" width="2" height="1" fill="#000" />
<rect x="1587" y="654" width="2" height="1" fill="#000" />
<rect x="1587" y="691" width="2" height="1" fill="#000" />
<rect x="1587" y="736" width="2" height="1" fill="#000" />
<rect x="1587" y="752" width="2" height="1" fill="#000" />
</svg>
<div class="t" style="left:1592.60px;top:38.37px;font-size:9.6px;line-height:9.6px;color:#000;letter-spacing:-0.300px;">1.33880</div>
<div class="t" style="left:1592.60px;top:71.37px;font-size:9.6px;line-height:9.6px;color:#000;letter-spacing:-0.300px;">1.33550</div>
<div class="t" style="left:1592.60px;top:104.37px;font-size:9.6px;line-height:9.6px;color:#000;letter-spacing:-0.300px;">1.33210</div>
<div class="t" style="left:1592.60px;top:137.37px;font-size:9.6px;line-height:9.6px;color:#000;letter-spacing:-0.300px;">1.32870</div>
<div class="t" style="left:1592.60px;top:170.37px;font-size:9.6px;line-height:9.6px;color:#000;letter-spacing:-0.300px;">1.32540</div>
<div class="t" style="left:1592.60px;top:269.37px;font-size:9.6px;line-height:9.6px;color:#000;letter-spacing:-0.300px;">1.31530</div>
<div class="t" style="left:1592.60px;top:302.37px;font-size:9.6px;line-height:9.6px;color:#000;letter-spacing:-0.300px;">1.31200</div>
<div class="t" style="left:1592.60px;top:335.37px;font-size:9.6px;line-height:9.6px;color:#000;letter-spacing:-0.300px;">1.30860</div>
<div class="t" style="left:1592.60px;top:368.37px;font-size:9.6px;line-height:9.6px;color:#000;letter-spacing:-0.300px;">1.30520</div>
<div class="t" style="left:1592.60px;top:401.37px;font-size:9.6px;line-height:9.6px;color:#000;letter-spacing:-0.300px;">1.30190</div>
<div class="t" style="left:1592.60px;top:434.37px;font-size:9.6px;line-height:9.6px;color:#000;letter-spacing:-0.300px;">1.29850</div>
<div class="t" style="left:1592.60px;top:467.37px;font-size:9.6px;line-height:9.6px;color:#000;letter-spacing:-0.300px;">1.29520</div>
<div class="t" style="left:1590.20px;top:479.47px;font-size:9.6px;line-height:9.6px;color:#000;letter-spacing:-0.330px;">0.007632</div>
<div class="t" style="left:1590.20px;top:559.47px;font-size:9.6px;line-height:9.6px;color:#000;letter-spacing:-0.071px;">0.00</div>
<div class="t" style="left:1590.00px;top:613.47px;font-size:9.6px;line-height:9.6px;color:#000;letter-spacing:-0.249px;">-0.005442</div>
<div class="t" style="left:1590.40px;top:629.47px;font-size:9.6px;line-height:9.6px;color:#000;letter-spacing:-0.472px;">100</div>
<div class="t" style="left:1590.40px;top:649.47px;font-size:9.6px;line-height:9.6px;color:#000;letter-spacing:-0.439px;">80</div>
<div class="t" style="left:1590.40px;top:686.47px;font-size:9.6px;line-height:9.6px;color:#000;letter-spacing:-0.439px;">50</div>
<div class="t" style="left:1590.40px;top:731.47px;font-size:9.6px;line-height:9.6px;color:#000;letter-spacing:-0.439px;">15</div>
<div class="t" style="left:1590.40px;top:743.87px;font-size:9.6px;line-height:9.6px;color:#000;">0</div>
<div class="t" style="left:-2.50px;top:760.17px;font-size:9.6px;line-height:9.6px;color:#000;letter-spacing:-0.186px;">28 Feb 2019</div>
<div class="t" style="left:62.50px;top:760.17px;font-size:9.6px;line-height:9.6px;color:#000;letter-spacing:-0.177px;">1 Mar 00:00</div>
<div class="t" style="left:126.50px;top:760.17px;font-size:9.6px;line-height:9.6px;color:#000;letter-spacing:-0.177px;">1 Mar 16:00</div>
<div class="t" style="left:190.50px;top:760.17px;font-size:9.6px;line-height:9.6px;color:#000;letter-spacing:-0.177px;">4 Mar 08:00</div>
<div class="t" style="left:254.50px;top:760.17px;font-size:9.6px;line-height:9.6px;color:#000;letter-spacing:-0.177px;">5 Mar 00:00</div>
<div class="t" style="left:318.50px;top:760.17px;font-size:9.6px;line-height:9.6px;color:#000;letter-spacing:-0.177px;">5 Mar 16:00</div>
<div class="t" style="left:382.50px;top:760.17px;font-size:9.6px;line-height:9.6px;color:#000;letter-spacing:-0.177px;">6 Mar 08:00</div>
<div class="t" style="left:446.50px;top:760.17px;font-size:9.6px;line-height:9.6px;color:#000;letter-spacing:-0.177px;">7 Mar 00:00</div>
<div class="t" style="left:510.50px;top:760.17px;font-size:9.6px;line-height:9.6px;color:#000;letter-spacing:-0.177px;">7 Mar 16:00</div>
<div class="t" style="left:574.50px;top:760.17px;font-size:9.6px;line-height:9.6px;color:#000;letter-spacing:-0.177px;">8 Mar 08:00</div>
<div class="t" style="left:638.50px;top:760.17px;font-size:9.6px;line-height:9.6px;color:#000;letter-spacing:-0.177px;">11 Mar 00:00</div>
<div class="t" style="left:702.50px;top:760.17px;font-size:9.6px;line-height:9.6px;color:#000;letter-spacing:-0.177px;">11 Mar 16:00</div>
<div class="t" style="left:766.50px;top:760.17px;font-size:9.6px;line-height:9.6px;color:#000;letter-spacing:-0.179px;">12 Mar 08:00</div>
<div class="t" style="left:830.50px;top:760.17px;font-size:9.6px;line-height:9.6px;color:#000;letter-spacing:-0.179px;">13 Mar 00:00</div>
<div class="t" style="left:894.50px;top:760.17px;font-size:9.6px;line-height:9.6px;color:#000;letter-spacing:-0.179px;">13 Mar 16:00</div>
<div class="t" style="left:958.50px;top:760.17px;font-size:9.6px;line-height:9.6px;color:#000;letter-spacing:-0.179px;">14 Mar 08:00</div>
<div class="t" style="left:1022.50px;top:760.17px;font-size:9.6px;line-height:9.6px;color:#000;letter-spacing:-0.179px;">15 Mar 00:00</div>
<div class="t" style="left:1086.50px;top:760.17px;font-size:9.6px;line-height:9.6px;color:#000;letter-spacing:-0.179px;">15 Mar 16:00</div>
<div class="t" style="left:1150.50px;top:760.17px;font-size:9.6px;line-height:9.6px;color:#000;letter-spacing:-0.179px;">18 Mar 08:00</div>
<div class="t" style="left:1214.50px;top:760.17px;font-size:9.6px;line-height:9.6px;color:#000;letter-spacing:-0.179px;">19 Mar 00:00</div>
<div class="t" style="left:1278.50px;top:760.17px;font-size:9.6px;line-height:9.6px;color:#000;letter-spacing:-0.179px;">19 Mar 16:00</div>
<div class="t" style="left:1342.50px;top:760.17px;font-size:9.6px;line-height:9.6px;color:#000;letter-spacing:-0.179px;">20 Mar 08:00</div>
<div class="t" style="left:1406.50px;top:760.17px;font-size:9.6px;line-height:9.6px;color:#000;letter-spacing:-0.179px;">20 Mar 22:00</div>
<div class="t" style="left:14.20px;top:32.87px;font-size:9.6px;line-height:9.6px;color:#000;letter-spacing:-0.159px;">GBPUSD-,H4  1.31863 1.31890 1.31841 1.31889</div>
<div class="t" style="left:3.80px;top:482.87px;font-size:9.6px;line-height:9.6px;color:#000;letter-spacing:-0.166px;">MACD(12,26,9) -0.000694 0.000808</div>
<div class="t" style="left:3.00px;top:631.87px;font-size:9.6px;line-height:9.6px;color:#000;letter-spacing:-0.163px;">RSI(14) 41.2532</div>
<svg width="1633" height="774" viewBox="0 0 1633 774" style="position:absolute;left:0;top:0" >
<g shape-rendering="crispEdges">
<path d="M2 40.2L5.5 36L9 40.2Z" fill="#000" shape-rendering="auto"/>
<rect x="1588" y="151" width="41" height="11" fill="#ff0000" />
<rect x="1588" y="182" width="41" height="11" fill="#ff0000" />
<rect x="1588" y="205" width="41" height="11" fill="#32cd32" />
<rect x="1588" y="263" width="41" height="11" fill="#0000ff" />
<rect x="1588" y="284" width="41" height="11" fill="#0000ff" />
<rect x="1588" y="234" width="41" height="11" fill="#000" />
<rect x="1586" y="239" width="2" height="1" fill="#000" />
<rect x="0" y="47" width="223" height="68" fill="#fff" />
<path d="M2 49H54V73H111V113H2Z" fill="url(#rg)"/>
<path d="M169 49H221V113H113V73H169Z" fill="url(#rg)"/>
<rect x="6" y="73" width="44" height="1" fill="#9c1010" />
<rect x="173" y="73" width="44" height="1" fill="#9c1010" />
<rect x="2" y="49" width="52" height="1" fill="#d83030" />
<rect x="169" y="49" width="52" height="1" fill="#d83030" />
<rect x="56" y="50" width="111" height="21" fill="#a8a8b0" />
<rect x="57" y="51" width="109" height="19" fill="#fff" />
<rect x="57" y="51" width="20" height="19" fill="url(#bg)" />
<rect x="77" y="51" width="1" height="19" fill="#a8a8b0" />
<rect x="146" y="51" width="20" height="19" fill="url(#bg)" />
<rect x="145" y="51" width="1" height="19" fill="#a8a8b0" />
<path d="M64 58.5H70L67 61.5Z" fill="#000" shape-rendering="auto"/>
<path d="M153 61.5H159L156 58.5Z" fill="#000" shape-rendering="auto"/>
</g>
</svg>
<div class="t" style="left:1592.60px;top:151.37px;font-size:9.6px;line-height:9.6px;color:#fff;letter-spacing:-0.300px;">1.32719</div>
<div class="t" style="left:1592.60px;top:182.37px;font-size:9.6px;line-height:9.6px;color:#fff;letter-spacing:-0.300px;">1.32410</div>
<div class="t" style="left:1592.60px;top:205.37px;font-size:9.6px;line-height:9.6px;color:#fff;letter-spacing:-0.300px;">1.32175</div>
<div class="t" style="left:1592.60px;top:263.37px;font-size:9.6px;line-height:9.6px;color:#fff;letter-spacing:-0.300px;">1.31587</div>
<div class="t" style="left:1592.60px;top:284.37px;font-size:9.6px;line-height:9.6px;color:#fff;letter-spacing:-0.300px;">1.31366</div>
<div class="t" style="left:1592.60px;top:234.37px;font-size:9.6px;line-height:9.6px;color:#fff;letter-spacing:-0.300px;">1.31889</div>
<div class="t" style="left:14.20px;top:54.67px;font-size:12.2px;line-height:12.2px;color:#fff;letter-spacing:-1.011px;">SELL</div>
<div class="t" style="left:182.30px;top:54.67px;font-size:12.2px;line-height:12.2px;color:#fff;letter-spacing:-0.495px;">BUY</div>
<div class="t" style="left:118.05px;top:53.56px;font-size:12.1px;line-height:12.1px;color:#000;">1.00</div>
<div class="t" style="left:22.60px;top:93.71px;font-size:11.8px;line-height:11.8px;color:#fff;font-weight:bold;letter-spacing:-0.042px;">1.31</div>
<div class="t" style="left:132.70px;top:93.71px;font-size:11.8px;line-height:11.8px;color:#fff;font-weight:bold;letter-spacing:-0.042px;">1.31</div>
<div class="t" style="left:49.00px;top:75.04px;font-size:34.8px;line-height:34.8px;color:#fff;letter-spacing:-1.354px;-webkit-text-stroke:0.45px #cb1c1c;">88</div>
<div class="t" style="left:159.60px;top:75.04px;font-size:34.8px;line-height:34.8px;color:#fff;letter-spacing:-2.654px;-webkit-text-stroke:0.45px #cb1c1c;">91</div>
<div class="t" style="left:88.90px;top:77.67px;font-size:12.2px;line-height:12.2px;color:#fff;font-weight:bold;">9</div>
<div class="t" style="left:199.80px;top:77.67px;font-size:12.2px;line-height:12.2px;color:#fff;font-weight:bold;">8</div>
<svg width="1633" height="774" viewBox="0 0 1633 774" style="position:absolute;left:0;top:0">
<defs>
<linearGradient id="gold" x1="0" y1="0" x2="1" y2="1"><stop offset="0" stop-color="#ffe47a"/><stop offset="0.6" stop-color="#f0b830"/><stop offset="1" stop-color="#b87808"/></linearGradient>
<linearGradient id="srv" x1="0" y1="0" x2="1" y2="0"><stop offset="0" stop-color="#8fd0ff"/><stop offset="0.35" stop-color="#1e96f0"/><stop offset="1" stop-color="#1878d8"/></linearGradient>
<linearGradient id="cloud" x1="0" y1="0" x2="0" y2="1"><stop offset="0" stop-color="#ffffff"/><stop offset="1" stop-color="#c8d4ea"/></linearGradient>
<radialGradient id="lens" cx="0.4" cy="0.35" r="0.7"><stop offset="0" stop-color="#ffffff"/><stop offset="1" stop-color="#a8d4f8"/></radialGradient>
<linearGradient id="clk" x1="0" y1="0" x2="0" y2="1"><stop offset="0" stop-color="#4aa0f0"/><stop offset="1" stop-color="#1050b8"/></linearGradient>
<linearGradient id="grn" x1="0" y1="0" x2="0" y2="1"><stop offset="0" stop-color="#58c038"/><stop offset="1" stop-color="#1f8a18"/></linearGradient>
<linearGradient id="blu" x1="0" y1="0" x2="0" y2="1"><stop offset="0" stop-color="#3a6ee0"/><stop offset="1" stop-color="#1838a8"/></linearGradient>
</defs>
<g shape-rendering="crispEdges">
<rect x="183" y="0" width="1" height="25" fill="#a0a0a0" />
<rect x="184" y="0" width="1" height="25" fill="#ffffff" />
<rect x="551" y="0" width="1" height="25" fill="#a0a0a0" />
<rect x="552" y="0" width="1" height="25" fill="#ffffff" />
<rect x="857" y="0" width="1" height="25" fill="#a0a0a0" />
<rect x="858" y="0" width="1" height="25" fill="#ffffff" />
<rect x="1118" y="0" width="1" height="25" fill="#a0a0a0" />
<rect x="1119" y="0" width="1" height="25" fill="#ffffff" />
<rect x="278" y="2" width="1" height="21" fill="#a0a0a0" />
<rect x="368" y="2" width="1" height="21" fill="#a0a0a0" />
<rect x="431" y="2" width="1" height="21" fill="#a0a0a0" />
<rect x="618" y="2" width="1" height="21" fill="#a0a0a0" />
<rect x="187" y="3" width="3" height="1" fill="#a6a6a6" />
<rect x="187" y="5" width="3" height="1" fill="#a6a6a6" />
<rect x="187" y="7" width="3" height="1" fill="#a6a6a6" />
<rect x="187" y="9" width="3" height="1" fill="#a6a6a6" />
<rect x="187" y="11" width="3" height="1" fill="#a6a6a6" />
<rect x="187" y="13" width="3" height="1" fill="#a6a6a6" />
<rect x="187" y="15" width="3" height="1" fill="#a6a6a6" />
<rect x="187" y="17" width="3" height="1" fill="#a6a6a6" />
<rect x="187" y="19" width="3" height="1" fill="#a6a6a6" />
<rect x="187" y="21" width="3" height="1" fill="#a6a6a6" />
<rect x="555" y="3" width="3" height="1" fill="#a6a6a6" />
<rect x="555" y="5" width="3" height="1" fill="#a6a6a6" />
<rect x="555" y="7" width="3" height="1" fill="#a6a6a6" />
<rect x="555" y="9" width="3" height="1" fill="#a6a6a6" />
<rect x="555" y="11" width="3" height="1" fill="#a6a6a6" />
<rect x="555" y="13" width="3" height="1" fill="#a6a6a6" />
<rect x="555" y="15" width="3" height="1" fill="#a6a6a6" />
<rect x="555" y="17" width="3" height="1" fill="#a6a6a6" />
<rect x="555" y="19" width="3" height="1" fill="#a6a6a6" />
<rect x="555" y="21" width="3" height="1" fill="#a6a6a6" />
<rect x="861" y="3" width="3" height="1" fill="#a6a6a6" />
<rect x="861" y="5" width="3" height="1" fill="#a6a6a6" />
<rect x="861" y="7" width="3" height="1" fill="#a6a6a6" />
<rect x="861" y="9" width="3" height="1" fill="#a6a6a6" />
<rect x="861" y="11" width="3" height="1" fill="#a6a6a6" />
<rect x="861" y="13" width="3" height="1" fill="#a6a6a6" />
<rect x="861" y="15" width="3" height="1" fill="#a6a6a6" />
<rect x="861" y="17" width="3" height="1" fill="#a6a6a6" />
<rect x="861" y="19" width="3" height="1" fill="#a6a6a6" />
<rect x="861" y="21" width="3" height="1" fill="#a6a6a6" />
<rect x="221" y="1" width="26" height="22" fill="#f9f9f9" />
<rect x="221" y="1" width="26" height="1" fill="#a0a0a0" />
<rect x="221" y="1" width="1" height="22" fill="#a0a0a0" />
<rect x="221" y="22" width="26" height="1" fill="#ffffff" />
<rect x="246" y="1" width="1" height="22" fill="#ffffff" />
<rect x="373" y="1" width="26" height="22" fill="#f9f9f9" />
<rect x="373" y="1" width="26" height="1" fill="#a0a0a0" />
<rect x="373" y="1" width="1" height="22" fill="#a0a0a0" />
<rect x="373" y="22" width="26" height="1" fill="#ffffff" />
<rect x="398" y="1" width="1" height="22" fill="#ffffff" />
<rect x="401" y="1" width="26" height="22" fill="#f9f9f9" />
<rect x="401" y="1" width="26" height="1" fill="#a0a0a0" />
<rect x="401" y="1" width="1" height="22" fill="#a0a0a0" />
<rect x="401" y="22" width="26" height="1" fill="#ffffff" />
<rect x="426" y="1" width="1" height="22" fill="#ffffff" />
<rect x="561" y="1" width="26" height="22" fill="#f9f9f9" />
<rect x="561" y="1" width="26" height="1" fill="#a0a0a0" />
<rect x="561" y="1" width="1" height="22" fill="#a0a0a0" />
<rect x="561" y="22" width="26" height="1" fill="#ffffff" />
<rect x="586" y="1" width="1" height="22" fill="#ffffff" />
<rect x="1007" y="1" width="26" height="22" fill="#f9f9f9" />
<rect x="1007" y="1" width="26" height="1" fill="#a0a0a0" />
<rect x="1007" y="1" width="1" height="22" fill="#a0a0a0" />
<rect x="1007" y="22" width="26" height="1" fill="#ffffff" />
<rect x="1032" y="1" width="1" height="22" fill="#ffffff" />
</g>
<text x="-0.4" y="15.7" font-size="12.2" fill="#000" font-family="&quot;Liberation Sans&quot;, &quot;Noto Sans CJK SC&quot;, sans-serif">单</text>
<text x="128.2" y="15.7" font-size="12.2" fill="#000" font-family="&quot;Liberation Sans&quot;, &quot;Noto Sans CJK SC&quot;, sans-serif">自动交易</text>
<path d="M29.5 6L38.8 12.2L39.9 14.7L32.4 20.8L24 14.7L28.4 8.6Z" fill="url(#gold)" stroke="#a8700c" stroke-width="0.9" stroke-linejoin="round"/>
<path d="M38.7 12.6L39.6 14.7L32.6 20.3L31.7 18.2Z" fill="#f2e6a8"/>
<path d="M24.8 14.6L32 19.8" stroke="#ffe68a" stroke-width="1.3" fill="none"/>
<path d="M24 14.9L32.4 21L40 14.9" stroke="#9a5c08" stroke-width="0.9" fill="none"/>
<path d="M29.8 7.4L28 10.6L26.2 13" stroke="#fff2b0" stroke-width="0.8" fill="none" opacity="0.8"/>
<path d="M54.2 5.6L57.6 5.1H62.5L65.2 7.6V15H54.2Z" fill="url(#srv)"/>
<path d="M54.4 5.6L57.7 8.2V15" stroke="#e8f6ff" stroke-width="0.7" fill="none"/>
<path d="M54.4 5.5L57.6 5.1H62.5L65.1 7.6H57.8Z" fill="#5cc0ff"/>
<rect x="59.2" y="9.9" width="4.8" height="0.9" fill="#e8f6ff" />
<rect x="59.2" y="12.2" width="4.8" height="0.7" fill="#9cd4ff" />
<path d="M55.3 20.7a3.1 3.1 0 0 1 -0.6 -6.1a2.6 2.6 0 0 1 3.4 -1.5a3.5 3.5 0 0 1 5.8 0.2a2.7 2.7 0 0 1 2.6 2a2.8 2.8 0 0 1 -1.2 5.4Z" fill="url(#cloud)" stroke="#4a68a8" stroke-width="0.9"/>
<path d="M87.9 12.8L91.9 5.9A8 8 0 0 1 87.9 20.8Z" fill="#58b858" opacity="0.45"/>
<path d="M87.9 12.8L95.7 11A8 8 0 0 1 87.9 20.8Z" fill="#3ca83c" opacity="0.35"/>
<circle cx="87.9" cy="12.9" r="7.7" fill="none" stroke="#9cb0e8" stroke-width="1" opacity="0.85"/>
<path d="M87.9 5.2A7.7 7.7 0 0 0 87.9 20.6" fill="none" stroke="#5c80dc" stroke-width="1" stroke-dasharray="2 1"/>
<circle cx="87.9" cy="12.9" r="4.9" fill="none" stroke="#8ea6e6" stroke-width="1.1"/>
<path d="M87.9 8A4.9 4.9 0 0 0 87.9 17.8" fill="none" stroke="#4a70d8" stroke-width="1.1" stroke-dasharray="2.4 1"/>
<path d="M88.4 13V20.8" stroke="#22a022" stroke-width="1.4"/>
<circle cx="87.8" cy="12.6" r="2" fill="#2a58d0"/>
<path d="M107.6 12.4L122.8 11.8L118.4 17.5L115.2 20.8Z" fill="#ffe868" stroke="#d09a10" stroke-width="0.7" stroke-linejoin="round"/>
<path d="M108.2 12.8L115.2 20.4L113 15.5Z" fill="#e8b020" opacity="0.7"/>
<ellipse cx="115" cy="9.6" rx="7.9" ry="2.6" transform="rotate(-5 115 9.6)" fill="#52a8e2" stroke="#1a7ab4" stroke-width="0.7"/>
<path d="M111 9.4C111 6.4 112.4 5 114.6 5S118.4 6.2 118.6 9.2Z" fill="#6cbcee" stroke="#1a7ab4" stroke-width="0.6"/>
<circle cx="119.5" cy="16.8" r="4" fill="#e82a0a" stroke="#c01c04" stroke-width="0.5"/>
<rect x="118" y="15.3" width="3.1" height="3" fill="#fff" />
<path d="M201.5 7V20.5M199 18.5H213" stroke="#555555" stroke-width="1.2" fill="none"/>
<path d="M201.5 6l-2 2.6h4Z M214 18.5l-2.6 -2v4Z" fill="#555555"/>
<path d="M205 15.5H207.5V9H210.5" stroke="#18a030" stroke-width="1.3" fill="none"/>
<path d="M229.6 7V20.5M227.1 18.5H241.1" stroke="#555555" stroke-width="1.2" fill="none"/>
<path d="M229.6 6l-2 2.6h4Z M242.1 18.5l-2.6 -2v4Z" fill="#555555"/>
<path d="M235.5 5V17" stroke="#108820" stroke-width="1.2"/>
<rect x="233.4" y="7.4" width="4.2" height="7.2" fill="#20c838" stroke="#108820" stroke-width="0.8"/>
<path d="M257.4 7V20.5M254.9 18.5H268.9" stroke="#555555" stroke-width="1.2" fill="none"/>
<path d="M257.4 6l-2 2.6h4Z M269.9 18.5l-2.6 -2v4Z" fill="#555555"/>
<path d="M256 15.8C259 12 261 9.5 263 10.4S266 13 268.2 14" stroke="#18a030" stroke-width="1.3" fill="none"/>
<path d="M296.8 15.2L301.8 20.2" stroke="#c8a020" stroke-width="2.6" stroke-linecap="round"/>
<circle cx="293" cy="11.2" r="5.1" fill="url(#lens)" stroke="#2a78d8" stroke-width="1.3"/>
<path d="M290.2 11.2H295.8" stroke="#2a78d8" stroke-width="1.6"/>
<path d="M293 8.4V14" stroke="#2a78d8" stroke-width="1.6"/>
<path d="M324.6 15.2L329.6 20.2" stroke="#c8a020" stroke-width="2.6" stroke-linecap="round"/>
<circle cx="320.8" cy="11.2" r="5.1" fill="url(#lens)" stroke="#2a78d8" stroke-width="1.3"/>
<path d="M318 11.2H323.6" stroke="#2a78d8" stroke-width="1.6"/>
<rect x="343.5" y="5" width="7.6" height="7.6" fill="url(#grn)" />
<rect x="344.7" y="7.6" width="5.2" height="3.4" fill="#fff" />
<rect x="345.5" y="8.8" width="3.6" height="0.9" fill="url(#grn)" />
<rect x="351.6" y="5" width="7.6" height="7.6" fill="url(#blu)" />
<rect x="352.8" y="7.6" width="5.2" height="3.4" fill="#fff" />
<rect x="353.6" y="8.8" width="3.6" height="0.9" fill="url(#blu)" />
<rect x="343.5" y="13.2" width="7.6" height="7.6" fill="url(#blu)" />
<rect x="344.7" y="15.8" width="5.2" height="3.4" fill="#fff" />
<rect x="345.5" y="17" width="3.6" height="0.9" fill="url(#blu)" />
<rect x="351.6" y="13.2" width="7.6" height="7.6" fill="url(#grn)" />
<rect x="352.8" y="15.8" width="5.2" height="3.4" fill="#fff" />
<rect x="353.6" y="17" width="3.6" height="0.9" fill="url(#grn)" />
<path d="M381.5 7V20.5M379 18.5H393" stroke="#555555" stroke-width="1.2" fill="none"/>
<path d="M381.5 6l-2 2.6h4Z M394 18.5l-2.6 -2v4Z" fill="#555555"/>
<path d="M386 9.2L390.4 12.6L386 16Z" fill="#30c030" stroke="#108820" stroke-width="0.7"/>
<path d="M409.7 7V20.5M407.2 18.5H421.2" stroke="#555555" stroke-width="1.2" fill="none"/>
<path d="M409.7 6l-2 2.6h4Z M422.2 18.5l-2.6 -2v4Z" fill="#555555"/>
<path d="M415.5 6.6V17" stroke="#1868b8" stroke-width="1.3"/>
<path d="M416.6 12.2l3 -2.4v1.6h1.6v1.6h-1.6v1.6Z" fill="#e04010"/>
<path d="M440.5 5.2H448L451.2 8.4V18.2H440.5Z" fill="#fcfcfc" stroke="#909090" stroke-width="0.8"/>
<path d="M448 5.2V8.4H451.2" fill="none" stroke="#909090" stroke-width="0.8"/>
<path d="M446.6 9.2c-1.6 -0.4 -2 0.6 -2 2v4.6M443.4 12h2.6" stroke="#404040" stroke-width="0.9" fill="none"/>
<path d="M448.2 11.2h3.6v3.8h3.8v3.6h-3.8v3.9h-3.6v-3.9h-3.8v-3.6h3.8Z" fill="#28c028" stroke="#108a10" stroke-width="0.7"/>
<path d="M462.1 12l2.6 3l2.6 -3Z" fill="#000"/>
<path d="M500.8 12l2.6 3l2.6 -3Z" fill="#000"/>
<path d="M539.8 12l2.6 3l2.6 -3Z" fill="#000"/>
<path d="M845.9 12l2.6 3l2.6 -3Z" fill="#000"/>
<circle cx="486" cy="12.9" r="7.4" fill="url(#clk)"/>
<circle cx="486" cy="12.9" r="4.6" fill="#f4f8ff"/>
<path d="M486 9.4V13.2H488.8" stroke="#303030" stroke-width="1" fill="none"/>
<rect x="517.2" y="6" width="15.6" height="13.6" fill="#2a78d8" />
<rect x="518.2" y="8.6" width="13.6" height="10" fill="#fff" />
<rect x="518.2" y="13.4" width="13.6" height="0.8" fill="#2a78d8" />
<path d="M519.4 12l2.6 -1l2.6 .6l2.6 -1.6l3 .8" stroke="#a02810" stroke-width="1.1" fill="none"/>
<path d="M519.4 17.6l2.6 -1.2l2.6 1l2.6 -2l3 1.6" stroke="#18a030" stroke-width="1.1" fill="none"/>
<path d="M569 6V18.4L572 15.6L574.4 20.6L576.4 19.6L574 14.8H578Z" fill="#444"/>
<path d="M594 13.3H600M603 13.3H609M601.5 6V11.8M601.5 14.8V20.6" stroke="#555555" stroke-width="1.1"/>
<path d="M635.5 7V19.6M658 13.3H670M686 19.6L698.2 8" stroke="#555555" stroke-width="1.2" fill="none"/>
<path d="M712 15.2L724 6.6M714 19.6L726 11M715.6 18.4L717.6 9M719.2 17L721.2 6.4M722.6 14.4L724.4 5" stroke="#555555" stroke-width="1" fill="none"/>
<path d="M741 6.1H754" stroke="#555555" stroke-width="1" stroke-dasharray="1 1"/>
<path d="M741 9.2H754" stroke="#555555" stroke-width="1" stroke-dasharray="1 1"/>
<path d="M741 12.9H754" stroke="#555555" stroke-width="1" stroke-dasharray="1 1"/>
<path d="M741 17.8H749" stroke="#555555" stroke-width="1" stroke-dasharray="1 1"/>
<rect x="798" y="7" width="11.6" height="12.4" fill="none" stroke="#555555" stroke-width="1" stroke-dasharray="1 1"/>
<path d="M825.4 10.4l3.2 -3.2l3.2 3.2l-3.2 1.6Z M832.4 16.4l3.2 3.2l3.2 -3.2l-3.2 -1.6Z" fill="#444"/>
<path d="M827.6 12.6l2.6 3l3.8 -4.6" stroke="#444" stroke-width="1.3" fill="none"/>
<path d="M1587.4 11.8L1581.6 17.8" stroke="#2858c8" stroke-width="2.2" stroke-linecap="round"/>
<circle cx="1589.4" cy="9.6" r="3.4" fill="#f4f8ff" stroke="#2858c8" stroke-width="1.6"/>
<path d="M1609 16.6a4.4 3.4 0 1 1 3.4 1.2l-2.6 2.2l.6 -2.6Z" fill="#fafafa" stroke="#8a8a8a" stroke-width="0.9"/>
<path d="M1617 13.6a5.6 4.2 0 1 1 4.6 1.4l1.6 2.6l-4.4 -2.4Z" fill="#f4f4f4" stroke="#8a8a8a" stroke-width="0.9"/>
<text x="1098.3" y="236.2" font-size="21.5" font-weight="bold" fill="#00f800" letter-spacing="1.2" font-family="&quot;Liberation Serif&quot;, &quot;Noto Serif CJK SC&quot;, serif">多空转折点</text>
<rect x="1167" y="219" width="1" height="25" fill="#000" shape-rendering="crispEdges"/>
</svg>
<div class="t" style="left:1211.30px;top:218.12px;font-size:21px;line-height:21px;color:#00f800;font-weight:bold;letter-spacing:0.327px;">1.32175</div>
<div class="t" style="left:723.20px;top:15.25px;font-size:7.5px;line-height:7.5px;color:#333;font-weight:bold;">E</div>
<div class="t" style="left:750.60px;top:15.45px;font-size:7.5px;line-height:7.5px;color:#333;font-weight:bold;">F</div>
<div class="t" style="left:771.20px;top:6.90px;font-size:13px;line-height:13px;color:#555;">A</div>
<div class="t" style="left:800.60px;top:8.79px;font-size:11px;line-height:11px;color:#555;font-weight:bold;">T</div>
<div class="t" style="left:872.10px;top:8.64px;font-size:9.4px;line-height:9.4px;color:#5a5a5a;letter-spacing:0.321px;">M1</div>
<div class="t" style="left:899.60px;top:8.64px;font-size:9.4px;line-height:9.4px;color:#5a5a5a;letter-spacing:0.371px;">M5</div>
<div class="t" style="left:926.10px;top:8.64px;font-size:9.4px;line-height:9.4px;color:#5a5a5a;letter-spacing:0.005px;">M15</div>
<div class="t" style="left:954.00px;top:8.64px;font-size:9.4px;line-height:9.4px;color:#5a5a5a;letter-spacing:-0.062px;">M30</div>
<div class="t" style="left:984.90px;top:8.64px;font-size:9.4px;line-height:9.4px;color:#5a5a5a;letter-spacing:0.092px;">H1</div>
<div class="t" style="left:1011.60px;top:8.64px;font-size:9.4px;line-height:9.4px;color:#5a5a5a;letter-spacing:1.242px;">H4</div>
<div class="t" style="left:1041.10px;top:8.64px;font-size:9.4px;line-height:9.4px;color:#5a5a5a;letter-spacing:0.292px;">D1</div>
<div class="t" style="left:1068.60px;top:8.64px;font-size:9.4px;line-height:9.4px;color:#5a5a5a;letter-spacing:0.200px;">W1</div>
<div class="t" style="left:1095.10px;top:8.64px;font-size:9.4px;line-height:9.4px;color:#5a5a5a;letter-spacing:0.441px;">MN</div>
</div></body></html>
